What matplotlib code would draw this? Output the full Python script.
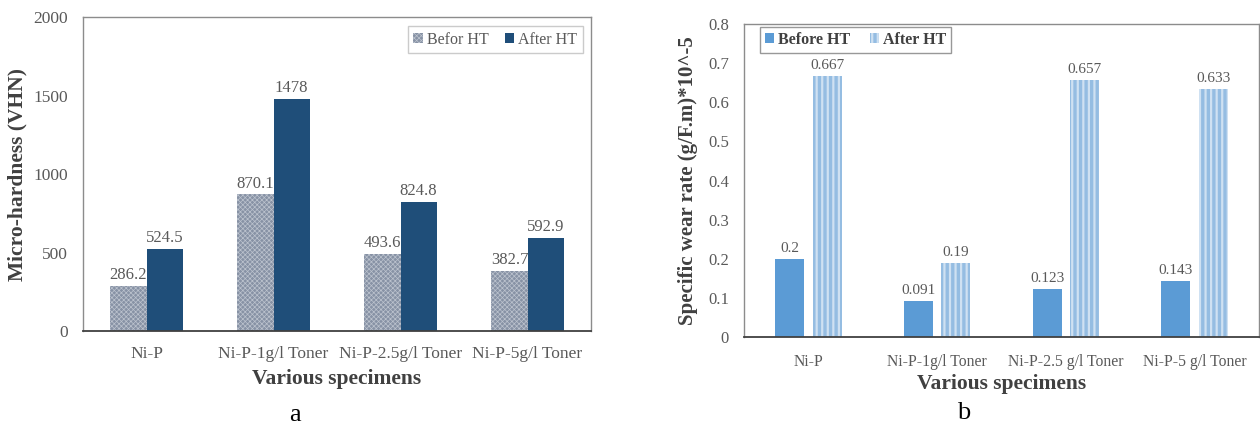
import matplotlib
matplotlib.use("Agg")
import matplotlib.pyplot as plt
import numpy as np

# Micro-hardness data
hard_categories = ["Ni-P", "Ni-P-1g/l Toner", "Ni-P-2.5g/l Toner", "Ni-P-5g/l Toner"]
hard_before = [286.2, 870.1, 493.6, 382.7]
hard_after = [524.5, 1478, 824.8, 592.9]
hard_before_labels = ["286.2", "870.1", "493.6", "382.7"]
hard_after_labels = ["524.5", "1478", "824.8", "592.9"]

# Specific wear rate data
wear_categories = ["Ni-P", "Ni-P-1g/l Toner", "Ni-P-2.5 g/l Toner", "Ni-P-5 g/l Toner"]
wear_before = [0.2, 0.091, 0.123, 0.143]
wear_after = [0.667, 0.19, 0.657, 0.633]
wear_before_labels = ["0.2", "0.091", "0.123", "0.143"]
wear_after_labels = ["0.667", "0.19", "0.657", "0.633"]

SERIF = ["Liberation Serif", "DejaVu Serif"]
plt.rcParams["font.family"] = SERIF
TXT = "#595959"
DARK = "#404040"

fig = plt.figure(figsize=(12.6, 4.28), dpi=100)
fig.patch.set_facecolor("white")


def style_axes(ax):
    for s in ["left", "top", "right"]:
        ax.spines[s].set_color("#8c8c8c")
        ax.spines[s].set_linewidth(1.0)
    ax.spines["bottom"].set_color("#404040")
    ax.spines["bottom"].set_linewidth(1.3)
    ax.tick_params(length=0, colors=TXT)


# ---- panel a: micro-hardness ----
ax1 = fig.add_axes([0.0659, 0.2266, 0.4032, 0.7336])
x = np.arange(len(hard_categories))
w = 0.285
plt.rcParams["hatch.linewidth"] = 0.5
b1 = ax1.bar(x - w / 2, hard_before, w, facecolor="#8792a5", edgecolor="#bcc3ce",
             hatch="xxxxxxx", linewidth=0, label="Befor HT")
b2 = ax1.bar(x + w / 2, hard_after, w, color="#1f4e79", linewidth=0, label="After HT")
ax1.set_xlim(-0.5, 3.5)
ax1.set_ylim(0, 2000)
ax1.set_yticks([0, 500, 1000, 1500, 2000])
ax1.set_xticks(x)
ax1.set_xticklabels(hard_categories, fontsize=12.5, color=TXT)
ax1.tick_params(axis="y", labelsize=12.5, pad=11)
ax1.tick_params(axis="x", pad=11)
style_axes(ax1)
ax1.bar_label(b1, labels=hard_before_labels, padding=2, fontsize=12, color=TXT)
ax1.bar_label(b2, labels=hard_after_labels, padding=2, fontsize=12, color=TXT)
ax1.set_ylabel("Micro-hardness (VHN)", fontsize=15.5, fontweight="bold", color=DARK)
ax1.yaxis.set_label_coords(-0.11, 0.5)
ax1.set_xlabel("Various specimens", fontsize=15.5, fontweight="bold", color=DARK,
               labelpad=5)
leg1 = ax1.legend(loc="upper right", bbox_to_anchor=(0.984, 0.971), borderaxespad=0,
                  ncol=2, fontsize=11.5, frameon=True, fancybox=False,
                  edgecolor="#bfbfbf", handlelength=0.6, handleheight=0.6,
                  handletextpad=0.25, columnspacing=1.0, borderpad=0.35,
                  labelcolor=TXT)
leg1.get_frame().set_linewidth(1.0)

# ---- panel b: specific wear rate ----
ax2 = fig.add_axes([0.5905, 0.2126, 0.4087, 0.7313])
x2 = np.arange(len(wear_categories))
w2 = 0.225
off = 0.145
plt.rcParams["hatch.linewidth"] = 2.4
c1 = ax2.bar(x2 - off, wear_before, w2, color="#5b9bd5", linewidth=0, label="Before HT")
c2 = ax2.bar(x2 + off, wear_after, w2, facecolor="#cfe1f2", edgecolor="#95bde2",
             hatch="|||", linewidth=0, label="After HT")
ax2.set_xlim(-0.5, 3.5)
ax2.set_ylim(0, 0.8)
ax2.set_yticks(np.arange(0, 0.81, 0.1))
ax2.set_yticklabels(["0", "0.1", "0.2", "0.3", "0.4", "0.5", "0.6", "0.7", "0.8"])
ax2.set_xticks(x2)
ax2.set_xticklabels(wear_categories, fontsize=11.3, color=TXT)
ax2.tick_params(axis="y", labelsize=12, pad=11)
ax2.tick_params(axis="x", pad=12)
style_axes(ax2)
ax2.bar_label(c1, labels=wear_before_labels, padding=3, fontsize=11, color=TXT)
ax2.bar_label(c2, labels=wear_after_labels, padding=3, fontsize=11, color=TXT)
ax2.set_ylabel("Specific wear rate (g/F.m)*10^-5", fontsize=15, fontweight="bold",
               color=DARK)
ax2.yaxis.set_label_coords(-0.089, 0.5)
ax2.set_xlabel("Various specimens", fontsize=15.5, fontweight="bold", color=DARK,
               labelpad=3)
leg2 = ax2.legend(loc="upper left", bbox_to_anchor=(0.031, 0.99), borderaxespad=0,
                  ncol=2, frameon=True, fancybox=False, edgecolor="#7f7f7f",
                  handlelength=0.6, handleheight=0.6, handletextpad=0.25,
                  columnspacing=1.2, borderpad=0.3, labelcolor=DARK,
                  prop={"weight": "bold", "size": 11.5, "family": SERIF})
leg2.get_frame().set_linewidth(1.0)

# panel letters
fig.text(295 / 1260, 1 - 415 / 428, "a", fontsize=19, ha="center", va="center",
         color="black")
fig.text(964 / 1260, 1 - 413 / 428, "b", fontsize=19, ha="center", va="center",
         color="black")

fig.savefig("out.png", dpi=100, facecolor="white")
